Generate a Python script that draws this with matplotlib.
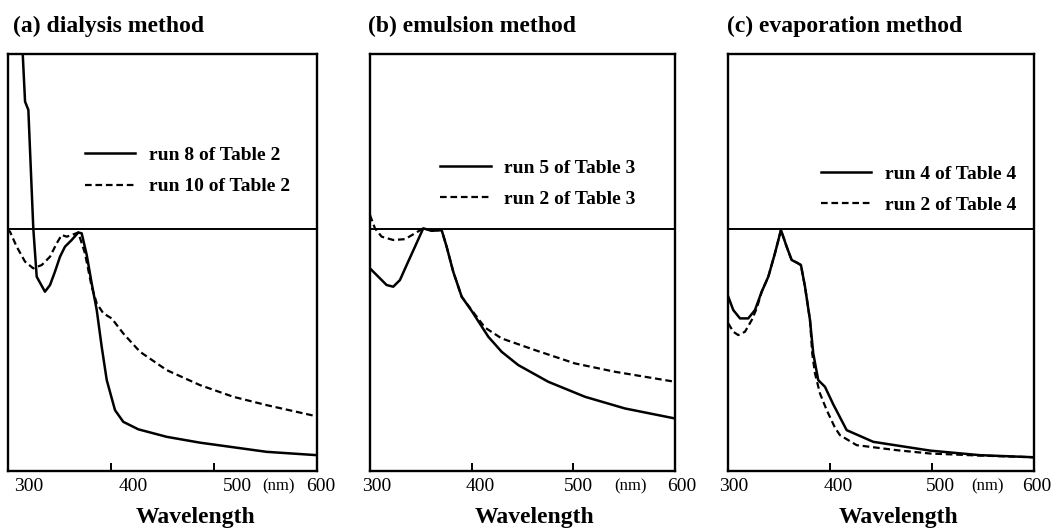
#!/usr/bin/env python3
import matplotlib
matplotlib.use("Agg")
import matplotlib.pyplot as plt

# (a) dialysis method
wl_a_run8 = [314.1, 317, 320.2, 325, 328.3, 336.3, 341.2, 346, 350.9, 355.7, 362.2, 368.6, 371.9,
             376.8, 381.6, 386.5, 391.3, 396.2, 404.2, 412.2, 426.8, 454.3, 486.6, 518.9, 551.2,
             600]
ab_a_run8 = [1.034, 0.886, 0.866, 0.582, 0.466, 0.43, 0.446, 0.478, 0.514, 0.538, 0.554, 0.572,
             0.57, 0.518, 0.45, 0.386, 0.298, 0.218, 0.146, 0.118, 0.1, 0.082, 0.068, 0.057,
             0.046, 0.038]
wl_a_run10 = [300, 302.4, 308.9, 317, 325, 333.2, 341.2, 347.7, 352.5, 357.4, 362.2, 368.6, 375.1,
              381.6, 386.5, 392.9, 401, 412.2, 428.4, 454.3, 486.6, 518.9, 551.2, 600]
ab_a_run10 = [0.578, 0.574, 0.538, 0.502, 0.486, 0.494, 0.514, 0.546, 0.566, 0.562, 0.566, 0.572,
              0.522, 0.442, 0.402, 0.378, 0.366, 0.33, 0.286, 0.242, 0.206, 0.178, 0.158, 0.131]

# (b) emulsion method
wl_b_run5 = [300, 308.2, 316.4, 322.9, 329.5, 336.1, 344.3, 352.4, 361, 370.5, 375.4, 381.9,
             390.2, 400, 416.4, 429.5, 445.9, 475.4, 511.5, 550.8, 600]
ab_b_run5 = [0.486, 0.466, 0.446, 0.442, 0.458, 0.494, 0.538, 0.582, 0.576, 0.578, 0.538, 0.478,
             0.418, 0.384, 0.322, 0.286, 0.254, 0.214, 0.178, 0.15, 0.126]
wl_b_run2 = [300, 304.9, 311.5, 322.9, 334.4, 344.3, 352.4, 361, 370.5, 375.4, 381.9, 390.2,
             400, 413.1, 429.5, 462.3, 501.6, 541, 600]
ab_b_run2 = [0.614, 0.582, 0.562, 0.554, 0.556, 0.57, 0.582, 0.576, 0.578, 0.538, 0.478, 0.418,
             0.386, 0.344, 0.318, 0.29, 0.258, 0.238, 0.214]

# (c) evaporation method
wl_c_run4 = [300, 304.9, 311.5, 319.6, 326.2, 332.8, 339.3, 345.8, 351.7, 357.3, 362.2, 367.1,
             371.3, 375.3, 380.2, 383.4, 388.3, 394.9, 403, 416.2, 442.3, 497.9, 547, 600]
ab_c_run4 = [0.418, 0.386, 0.366, 0.366, 0.386, 0.43, 0.466, 0.522, 0.578, 0.538, 0.506, 0.5,
             0.494, 0.442, 0.362, 0.282, 0.218, 0.202, 0.16, 0.098, 0.07, 0.049, 0.038, 0.033]
wl_c_run2 = [300, 304.9, 309.8, 316.4, 323, 327.9, 332.8, 339.3, 345.8, 351.7, 357.3, 362.2,
             367.1, 371.3, 375.3, 380.2, 382.4, 385.1, 390, 396.6, 404.7, 409.6, 426, 465.2,
             497.9, 547, 600]
ab_c_run2 = [0.354, 0.334, 0.326, 0.334, 0.362, 0.39, 0.43, 0.466, 0.522, 0.578, 0.538, 0.506,
             0.5, 0.494, 0.442, 0.362, 0.282, 0.234, 0.186, 0.146, 0.104, 0.086, 0.062, 0.05,
             0.042, 0.037, 0.033]

titles = ["(a) dialysis method", "(b) emulsion method", "(c) evaporation method"]
solid_labels = ["run 8 of Table 2", "run 5 of Table 3", "run 4 of Table 4"]
dashed_labels = ["run 10 of Table 2", "run 2 of Table 3", "run 2 of Table 4"]
tick_labels = ["300", "400", "500", "(nm)", "600"]
baseline = 0.58

series = [
    (wl_a_run8, ab_a_run8, wl_a_run10, ab_a_run10),
    (wl_b_run5, ab_b_run5, wl_b_run2, ab_b_run2),
    (wl_c_run4, ab_c_run4, wl_c_run2, ab_c_run2),
]

# layout (figure fractions / data positions of the printed tick labels)
axes_rects = [
    [0.0071, 0.1096, 0.2928, 0.7883],
    [0.3500, 0.1096, 0.2886, 0.7883],
    [0.6890, 0.1096, 0.2892, 0.7883],
]
label_pos = [
    [321, 422, 523, 563, 604],
    [307, 408, 505, 556, 607],
    [305, 408, 508, 554, 603],
]
legend_anchor = [(0.25, 0.778), (0.23, 0.748), (0.302, 0.733)]
xlabel_pos = [0.606, 0.538, 0.558]

SERIF = "Liberation Serif"

fig = plt.figure(figsize=(10.57, 5.29), dpi=100)

for i, (wl1, ab1, wl2, ab2) in enumerate(series):
    ax = fig.add_axes(axes_rects[i])
    ax.plot(wl1, ab1, color="black", lw=1.8, label=solid_labels[i])
    ax.plot(wl2, ab2, color="black", lw=1.6, linestyle=(0, (3, 1.7)), label=dashed_labels[i])
    ax.axhline(baseline, color="black", lw=1.4)

    ax.set_xlim(300, 600)
    ax.set_ylim(0, 1)
    ax.set_yticks([])
    ax.set_xticks([400, 500])
    ax.set_xticklabels([])
    ax.tick_params(axis="x", direction="in", length=6, width=1.4)
    for sp in ax.spines.values():
        sp.set_linewidth(1.7)

    for lab, xp in zip(tick_labels, label_pos[i]):
        fs = 12 if lab == "(nm)" else 14
        ax.text(xp, -0.037, lab, transform=ax.get_xaxis_transform(),
                ha="center", va="center", fontsize=fs, family=SERIF)

    ax.text(xlabel_pos[i], -0.112, "Wavelength", transform=ax.transAxes,
            ha="center", va="center", fontsize=17, family=SERIF, fontweight="bold")
    ax.text(0.018 if i == 0 else -0.005, 1.065, titles[i], transform=ax.transAxes,
            ha="left", va="center", fontsize=17, family=SERIF, fontweight="bold")

    ax.legend(loc="upper left", bbox_to_anchor=legend_anchor[i], frameon=False,
              handlelength=2.6, handletextpad=0.7, labelspacing=0.7, borderpad=0,
              borderaxespad=0, prop={"family": SERIF, "weight": "bold", "size": 14})

fig.savefig("out.png", dpi=100)
